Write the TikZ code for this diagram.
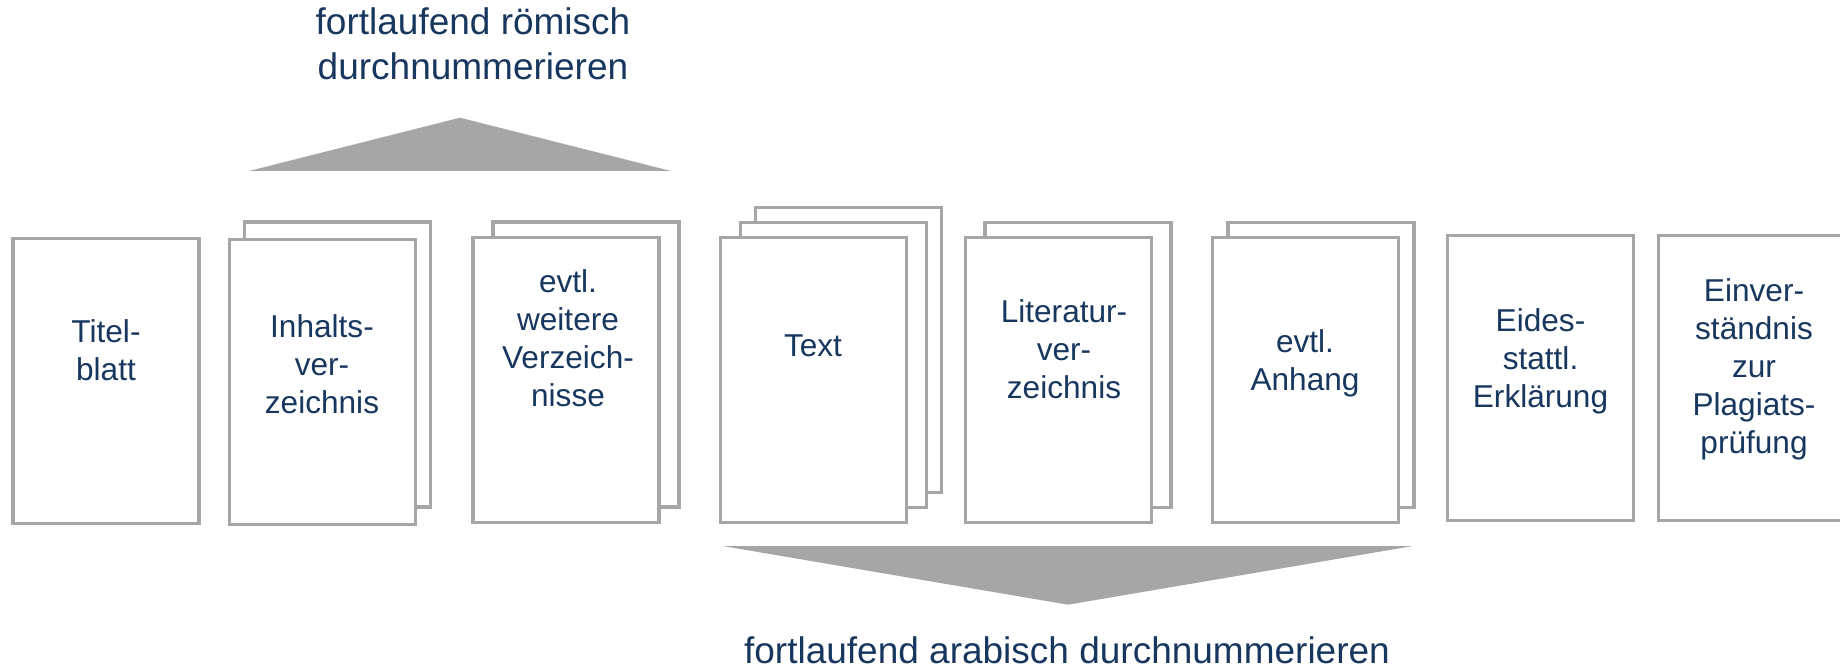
\documentclass[tikz,border=0pt]{standalone}
\usepackage{fontspec}
\setmainfont{Liberation Sans}
\definecolor{txtblue}{HTML}{17375E}
\definecolor{sheetgray}{HTML}{A6A6A6}
\begin{document}
\begin{tikzpicture}[x=0.5pt,y=-0.5pt,
  sheet/.style={draw=sheetgray, line width=1.65pt, fill=white, rectangle, inner sep=0pt, outer sep=0pt,
    minimum width=93pt, minimum height=142.5pt},
  lbl/.style={text=txtblue, align=center, anchor=base, inner sep=0pt,
    font=\fontsize{15.8pt}{19pt}\selectfont},
  head/.style={text=txtblue, align=center, anchor=base, inner sep=0pt,
    font=\fontsize{18.5pt}{22.5pt}\selectfont}]
\useasboundingbox (0,0) rectangle (1840,668);
% number range markers
\fill[sheetgray] (249,171) -- (460,117.7) -- (671,171) -- cycle;
\fill[sheetgray] (722.7,546) -- (1413,546) -- (1068,604.7) -- cycle;
\node[head] (roem) at (473,80) {fortlaufend römisch\\durchnummerieren};
\node[head] (arab) at (1067,663) {fortlaufend arabisch durchnummerieren};
% sheets
\node[sheet] (titel) at (106,381) {};
\node[sheet] (inhB) at (337.5,364.5) {};
\node[sheet] (inh) at (322.5,381.75) {};
\node[sheet] (verzB) at (586,364.5) {};
\node[sheet] (verz) at (566,380) {};
\node[sheet] (textC) at (848.5,349.75) {};
\node[sheet] (textB) at (833.5,364.75) {};
\node[sheet] (text) at (813.25,380.25) {};
\node[sheet] (litB) at (1078,365) {};
\node[sheet] (lit) at (1058.5,380) {};
\node[sheet] (anhB) at (1321,365) {};
\node[sheet] (anh) at (1305.75,380) {};
\node[sheet] (eid) at (1540.75,378.25) {};
\node[sheet] (einv) at (1751.5,378.25) {};
% labels
\node[lbl] (titelL) at (106,380) {Titel-\\blatt};
\node[lbl] (inhL) at (322,413.3) {Inhalts-\\ver-\\zeichnis};
\node[lbl] (verzL) at (568,406.7) {evtl.\\weitere\\Verzeich-\\nisse};
\node[lbl] (textL) at (813,356.7) {Text};
\node[lbl] (litL) at (1064,398.3) {Literatur-\\ver-\\zeichnis};
\node[lbl] (anhL) at (1305,390) {evtl.\\Anhang};
\node[lbl] (eidL) at (1540.5,407.3) {Eides-\\stattl.\\Erklärung};
\node[lbl] (einvL) at (1754,453.3) {Einver-\\ständnis\\zur\\Plagiats-\\prüfung};
\end{tikzpicture}
\end{document}
